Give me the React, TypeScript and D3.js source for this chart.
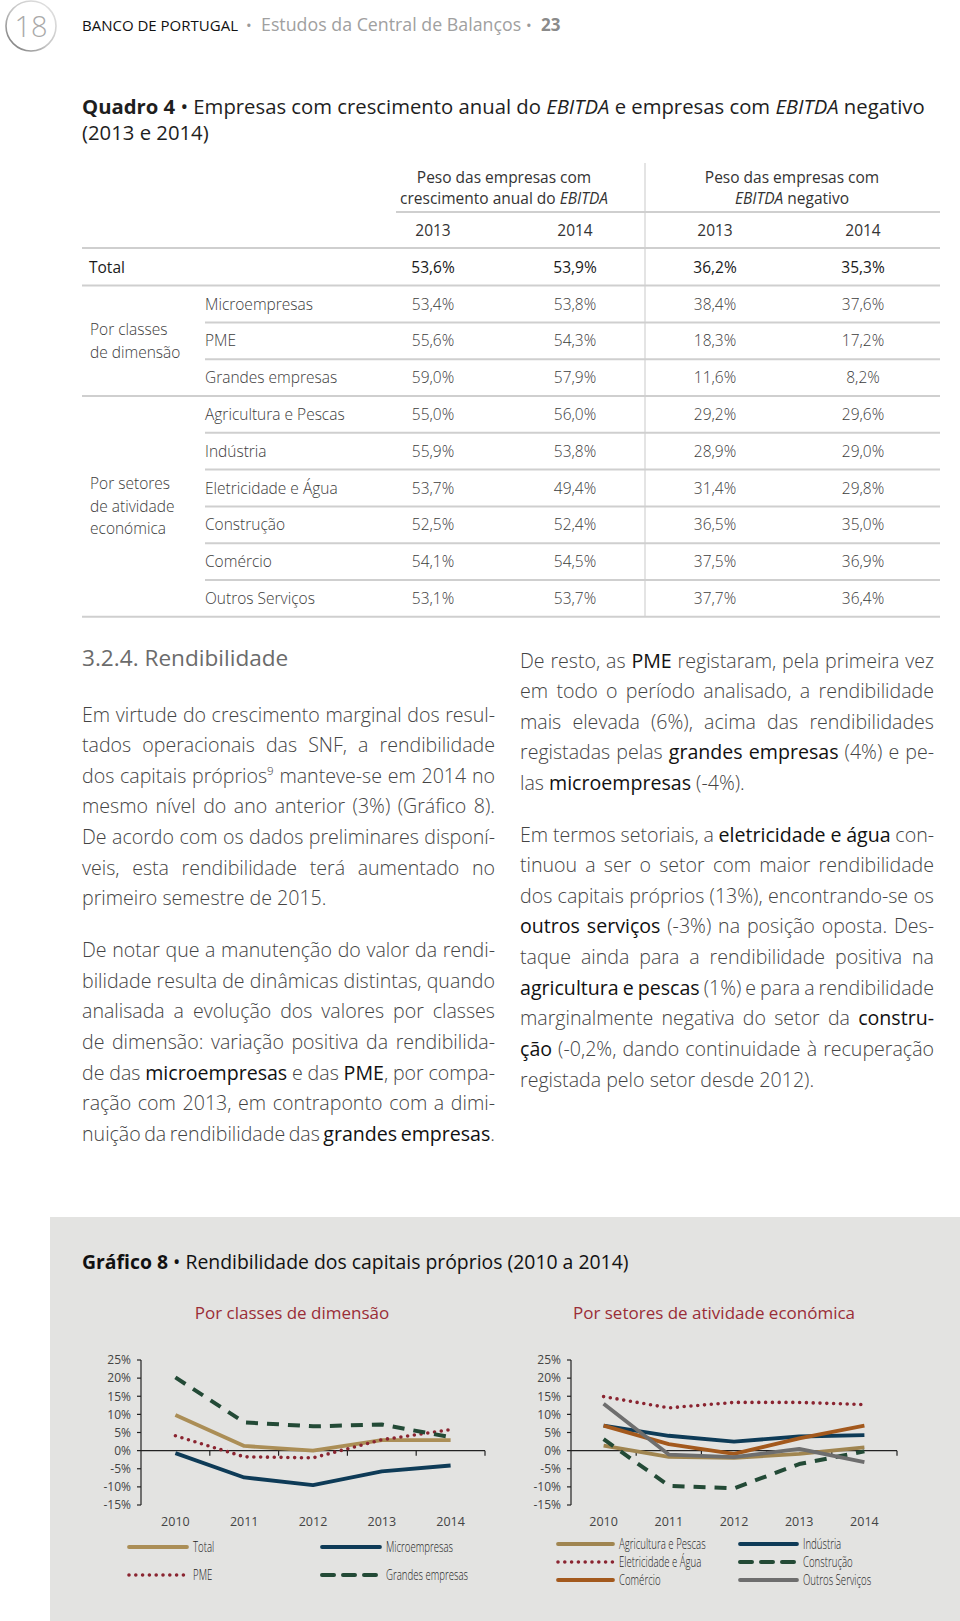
import React from "react";
import * as d3 from "d3";

// ---------- Data ----------
const years = ["2010", "2011", "2012", "2013", "2014"];

const totalSeries = [9.8, 1.3, 0.0, 2.9, 2.9];
const microSeries = [-0.7, -7.4, -9.5, -5.7, -4.1];
const pmeSeries = [4.1, -1.7, -2.0, 3.0, 5.8];
const grandesSeries = [20.2, 7.8, 6.7, 7.2, 3.7];

const agriSeries = [1.4, -1.7, -2.0, -0.9, 0.9];
const industriaSeries = [6.9, 4.1, 2.5, 3.9, 4.3];
const eletSeries = [14.9, 11.8, 13.3, 13.3, 12.7];
const construcaoSeries = [3.2, -9.7, -10.4, -3.7, -0.2];
const comercioSeries = [6.9, 1.8, -0.9, 3.4, 6.9];
const outrosSeries = [12.9, -1.1, -1.8, 0.5, -3.2];

const yTicks = [25, 20, 15, 10, 5, 0, -5, -10, -15];

const tableYears = ["2013", "2014", "2013", "2014"];
const totalRow = ["53,6%", "53,9%", "36,2%", "35,3%"];
const rowLabels = [
  "Microempresas", "PME", "Grandes empresas",
  "Agricultura e Pescas", "Indústria", "Eletricidade e Água",
  "Construção", "Comércio", "Outros Serviços",
];
const crescimento2013 = ["53,4%", "55,6%", "59,0%", "55,0%", "55,9%", "53,7%", "52,5%", "54,1%", "53,1%"];
const crescimento2014 = ["53,8%", "54,3%", "57,9%", "56,0%", "53,8%", "49,4%", "52,4%", "54,5%", "53,7%"];
const negativo2013 = ["38,4%", "18,3%", "11,6%", "29,2%", "28,9%", "31,4%", "36,5%", "37,5%", "37,7%"];
const negativo2014 = ["37,6%", "17,2%", "8,2%", "29,6%", "29,0%", "29,8%", "35,0%", "36,9%", "36,4%"];

const leftPara1 = [
  "Em virtude do crescimento marginal dos resul-",
  "tados operacionais das SNF, a rendibilidade",
  "dos capitais próprios^9 manteve-se em 2014 no",
  "mesmo nível do ano anterior (3%) (Gráfico 8).",
  "De acordo com os dados preliminares disponí-",
  "veis, esta rendibilidade terá aumentado no",
  "primeiro semestre de 2015.",
];
const leftPara2 = [
  "De notar que a manutenção do valor da rendi-",
  "bilidade resulta de dinâmicas distintas, quando",
  "analisada a evolução dos valores por classes",
  "de dimensão: variação positiva da rendibilida-",
  "de das **microempresas** e das **PME**, por compa-",
  "ração com 2013, em contraponto com a dimi-",
  "nuição da rendibilidade das **grandes empresas**.",
];
const rightPara1 = [
  "De resto, as **PME** registaram, pela primeira vez",
  "em todo o período analisado, a rendibilidade",
  "mais elevada (6%), acima das rendibilidades",
  "registadas pelas **grandes empresas** (4%) e pe-",
  "las **microempresas** (-4%).",
];
const rightPara2 = [
  "Em termos setoriais, a **eletricidade e água** con-",
  "tinuou a ser o setor com maior rendibilidade",
  "dos capitais próprios (13%), encontrando-se os",
  "**outros serviços** (-3%) na posição oposta. Des-",
  "taque ainda para a rendibilidade positiva na",
  "**agricultura e pescas** (1%) e para a rendibilidade",
  "marginalmente negativa do setor da **constru-**",
  "**ção** (-0,2%, dando continuidade à recuperação",
  "registada pelo setor desde 2012).",
];

// ---------- Styles ----------
const FONT = "'Open Sans', 'Noto Sans', sans-serif";

type SeriesStyle = { name: string; values: number[]; color: string; kind: "solid" | "dot" | "dash" };

const leftSeries: SeriesStyle[] = [
  { name: "Total", values: totalSeries, color: "#ab8e56", kind: "solid" },
  { name: "Microempresas", values: microSeries, color: "#0e3b57", kind: "solid" },
  { name: "PME", values: pmeSeries, color: "#8a2430", kind: "dot" },
  { name: "Grandes empresas", values: grandesSeries, color: "#234a36", kind: "dash" },
];
const rightSeries: SeriesStyle[] = [
  { name: "Agricultura e Pescas", values: agriSeries, color: "#a08550", kind: "solid" },
  { name: "Indústria", values: industriaSeries, color: "#0e3b57", kind: "solid" },
  { name: "Eletricidade e Água", values: eletSeries, color: "#8a2430", kind: "dot" },
  { name: "Construção", values: construcaoSeries, color: "#234a36", kind: "dash" },
  { name: "Comércio", values: comercioSeries, color: "#a3591d", kind: "solid" },
  { name: "Outros Serviços", values: outrosSeries, color: "#6e6e6e", kind: "solid" },
];

function strokeProps(s: SeriesStyle) {
  if (s.kind === "dot") return { strokeWidth: 3.6, strokeDasharray: "0 6.8", strokeLinecap: "round" as const };
  if (s.kind === "dash") return { strokeWidth: 4, strokeDasharray: "12 9", strokeLinecap: "butt" as const };
  return { strokeWidth: 3.8, strokeLinecap: "butt" as const };
}

// ---------- Text measurement ----------
let ctx: CanvasRenderingContext2D | null = null;
function measure(text: string, weight: number, size: number, italic = false) {
  if (!ctx) ctx = document.createElement("canvas").getContext("2d");
  if (!ctx) return text.length * size * 0.5;
  ctx.font = `${italic ? "italic " : ""}${weight} ${size}px "Open Sans"`;
  return ctx.measureText(text).width;
}

type Run = { text: string; bold: boolean; sup: boolean };
function parseLine(line: string): Run[][] {
  const words: Run[][] = [];
  let bold = false;
  let cur: Run[] = [];
  let buf = "";
  const flush = () => {
    if (buf) {
      cur.push({ text: buf, bold, sup: false });
      buf = "";
    }
  };
  for (let i = 0; i < line.length; i++) {
    if (line.startsWith("**", i)) {
      flush();
      bold = !bold;
      i++;
      continue;
    }
    const ch = line[i];
    if (ch === "^") {
      flush();
      cur.push({ text: line[i + 1], bold, sup: true });
      i++;
      continue;
    }
    if (ch === " ") {
      flush();
      if (cur.length) words.push(cur);
      cur = [];
      continue;
    }
    buf += ch;
  }
  flush();
  if (cur.length) words.push(cur);
  return words;
}

const BODY = 19.6;
function runWidth(r: Run) {
  return measure(r.text, r.bold ? 400 : 300, r.sup ? 11.5 : BODY);
}

function Paragraph({ lines, x, width, y0, lh }: { lines: string[]; x: number; width: number; y0: number; lh: number }) {
  return (
    <g fontFamily={FONT}>
      {lines.map((ln, li) => {
        const words = parseLine(ln);
        const widths = words.map((w) => w.reduce((s, r) => s + runWidth(r), 0));
        const total = widths.reduce((a, b) => a + b, 0);
        const isLast = li === lines.length - 1;
        const natGap = measure(" ", 300, BODY);
        let gap = natGap;
        if (!isLast && words.length > 1) gap = (width - total) / (words.length - 1);
        if (isLast && total + natGap * (words.length - 1) > width - 2 && words.length > 1)
          gap = (width - total) / (words.length - 1);
        const yb = y0 + li * lh;
        let cx = x;
        const spans: React.ReactNode[] = [];
        words.forEach((w, wi) => {
          w.forEach((r, ri) => {
            const isEnd = ri === w.length - 1 && wi < words.length - 1;
            spans.push(
              <tspan
                key={`${wi}-${ri}`}
                x={cx}
                y={r.sup ? yb - 8 : yb}
                fontSize={r.sup ? 11.5 : BODY}
                fontWeight={r.bold ? 400 : 300}
                fill={r.bold ? "#111" : "#444"}
              >
                {r.text + (isEnd ? " " : "")}
              </tspan>
            );
            cx += runWidth(r);
          });
          cx += gap;
        });
        return <text key={li}>{spans}</text>;
      })}
    </g>
  );
}

// ---------- Chart ----------
const yScale = d3.scaleLinear().domain([-15, 25]).range([1505, 1360]);

function LineChart({ x0, x1, series }: { x0: number; x1: number; series: SeriesStyle[] }) {
  const x = d3.scaleBand<string>().domain(years).range([x0, x1]).padding(0);
  const cx = (i: number) => (x(years[i]) as number) + x.bandwidth() / 2;
  const line = d3
    .line<number>()
    .x((_, i) => cx(i))
    .y((d) => yScale(d));
  const y0 = yScale(0);
  return (
    <g>
      <line x1={x0} x2={x0} y1={yScale(25)} y2={yScale(-15)} stroke="#222" strokeWidth={1.2} />
      {yTicks.map((t) => (
        <g key={t}>
          <line x1={x0 - 4} x2={x0} y1={yScale(t)} y2={yScale(t)} stroke="#222" strokeWidth={1.2} />
          <text x={x0 - 10} y={yScale(t) + 4.3} textAnchor="end" fontSize={12} fontFamily={FONT} fill="#444">
            {t + "%"}
          </text>
        </g>
      ))}
      <line x1={x0} x2={x1} y1={y0} y2={y0} stroke="#222" strokeWidth={1.2} />
      {years.map((yr) => (
        <line
          key={yr}
          x1={(x(yr) as number) + x.bandwidth()}
          x2={(x(yr) as number) + x.bandwidth()}
          y1={y0}
          y2={y0 + 5}
          stroke="#222"
          strokeWidth={1.2}
        />
      ))}
      {years.map((yr, i) => (
        <text key={yr} x={cx(i)} y={1525.5} textAnchor="middle" fontSize={12.5} fontFamily={FONT} fill="#444">
          {yr}
        </text>
      ))}
      {series.map((s) => (
        <path key={s.name} d={line(s.values) || ""} fill="none" stroke={s.color} strokeLinejoin="round" {...strokeProps(s)} />
      ))}
    </g>
  );
}

const LEG_SIZE = 14.5;
function LegendItem({ s, x, y, len }: { s: SeriesStyle; x: number; y: number; len: number }) {
  const w = measure(s.name, 300, 13) * 0.74;
  return (
    <g>
      <line x1={x} x2={x + len} y1={y} y2={y} stroke={s.color} {...strokeProps(s)} strokeLinecap="round" />
      <text
        x={x + len + 6}
        y={y + 5}
        fontSize={LEG_SIZE}
        fontWeight={300}
        fontFamily={FONT}
        fill="#222"
        textLength={w}
        lengthAdjust="spacingAndGlyphs"
      >
        {s.name}
      </text>
    </g>
  );
}

// ---------- Table ----------
const colX = [433, 575, 715, 863];
const rowY0 = 304;
const rowStep = 36.8;

export default function App() {
  const rowsY = rowLabels.map((_, i) => rowY0 + i * rowStep);
  return (
    <svg
      width={960}
      height={1621}
      viewBox="0 0 960 1621"
      style={{ position: "absolute", left: 0, top: 0, background: "#fff" }}
    >
      <defs>
        <linearGradient id="ring" x1="1" y1="0" x2="0" y2="1">
          <stop offset="0" stopColor="#e6e6e6" />
          <stop offset="0.55" stopColor="#c4c4c4" />
          <stop offset="1" stopColor="#6f6f6f" />
        </linearGradient>
      </defs>
      <rect x={0} y={0} width={960} height={1621} fill="#fff" />

      {/* Header */}
      <circle cx={31} cy={26} r={25} fill="none" stroke="url(#ring)" strokeWidth={1.6} />
      <text x={31} y={36.5} textAnchor="middle" fontSize={29} fontWeight={300} fontFamily={FONT} fill="#a9a9a9">
        18
      </text>
      <text y={31} fontFamily={FONT} fontSize={15}>
        <tspan x={82} fill="#111">BANCO DE PORTUGAL</tspan>
        <tspan x={246} fill="#9a9a9a">•</tspan>
        <tspan x={261} fill="#a0a0a0" fontSize={17.8}>Estudos da Central de Balanços</tspan>
        <tspan x={526} fill="#9a9a9a">•</tspan>
        <tspan x={541} fill="#8a8a8a" fontWeight={700} fontSize={17}>23</tspan>
      </text>

      {/* Quadro title */}
      <text x={82} y={113.5} fontFamily={FONT} fontSize={20.3} fill="#1e1e1e">
        <tspan fontWeight={700}>Quadro 4</tspan>
        <tspan> • Empresas com crescimento anual do </tspan>
        <tspan fontStyle="italic">EBITDA</tspan>
        <tspan> e empresas com </tspan>
        <tspan fontStyle="italic">EBITDA</tspan>
        <tspan> negativo</tspan>
      </text>
      <text x={82} y={139.5} fontFamily={FONT} fontSize={20.3} fill="#1e1e1e">
        (2013 e 2014)
      </text>

      {/* Table */}
      <g fontFamily={FONT}>
        <line x1={645} x2={645} y1={163} y2={617} stroke="#d2d2d2" strokeWidth={1.2} />
        <text x={504} y={183} textAnchor="middle" fontSize={15.5} fill="#333">Peso das empresas com</text>
        <text x={504} y={204} textAnchor="middle" fontSize={15.5} fill="#333">
          crescimento anual do <tspan fontStyle="italic">EBITDA</tspan>
        </text>
        <text x={792} y={183} textAnchor="middle" fontSize={15.5} fill="#333">Peso das empresas com</text>
        <text x={792} y={204} textAnchor="middle" fontSize={15.5} fill="#333">
          <tspan fontStyle="italic">EBITDA</tspan> negativo
        </text>
        <line x1={396} x2={940} y1={212} y2={212} stroke="#cfcfcf" strokeWidth={2} />
        {tableYears.map((t, i) => (
          <text key={i} x={colX[i]} y={236} textAnchor="middle" fontSize={15.5} fill="#333">
            {t}
          </text>
        ))}
        <line x1={82} x2={940} y1={248} y2={248} stroke="#cfcfcf" strokeWidth={2} />
        <text x={89} y={272.5} fontSize={15.5} fill="#1a1a1a">Total</text>
        {totalRow.map((v, i) => (
          <text key={i} x={colX[i]} y={272.5} textAnchor="middle" fontSize={15.5} fill="#1a1a1a">
            {v}
          </text>
        ))}
        <line x1={82} x2={940} y1={285.5} y2={285.5} stroke="#cfcfcf" strokeWidth={2} />
        {rowLabels.map((lab, i) => {
          const yc = rowsY[i];
          const vals = [crescimento2013[i], crescimento2014[i], negativo2013[i], negativo2014[i]];
          const full = i === 2 || i === rowLabels.length - 1;
          return (
            <g key={lab}>
              <text x={205} y={yc + 5.5} fontSize={15.5} fontWeight={300} fill="#3c3c3c">
                {lab}
              </text>
              {vals.map((v, j) => (
                <text key={j} x={colX[j]} y={yc + 5.5} textAnchor="middle" fontSize={15.5} fontWeight={300} fill="#3c3c3c">
                  {v}
                </text>
              ))}
              <line
                x1={full ? 82 : 205}
                x2={940}
                y1={yc + 18.4}
                y2={yc + 18.4}
                stroke="#cfcfcf"
                strokeWidth={2}
              />
            </g>
          );
        })}
        <g fontSize={15.5} fontWeight={300} fill="#3c3c3c">
          <text x={90} y={335}>Por classes</text>
          <text x={90} y={358}>de dimensão</text>
          <text x={90} y={489}>Por setores</text>
          <text x={90} y={511.5}>de atividade</text>
          <text x={90} y={533.5}>económica</text>
        </g>
      </g>

      {/* Body text */}
      <text x={82} y={666} fontFamily={FONT} fontSize={22.6} fill="#6b6b6b">
        3.2.4. Rendibilidade
      </text>
      <Paragraph lines={leftPara1} x={82} width={413} y0={721.5} lh={30.65} />
      <Paragraph lines={leftPara2} x={82} width={413} y0={957} lh={30.65} />
      <Paragraph lines={rightPara1} x={520} width={414} y0={667.5} lh={30.65} />
      <Paragraph lines={rightPara2} x={520} width={414} y0={841.5} lh={30.65} />

      {/* Chart panel */}
      <rect x={50} y={1217} width={910} height={404} fill="#e3e3e1" />
      <text x={82} y={1268.5} fontFamily={FONT} fontSize={19.4} fill="#111">
        <tspan fontWeight={700}>Gráfico 8</tspan>
        <tspan> • Rendibilidade dos capitais próprios (2010 a 2014)</tspan>
      </text>
      <text x={292} y={1319} textAnchor="middle" fontFamily={FONT} fontSize={17} fill="#9a2d37">
        Por classes de dimensão
      </text>
      <text x={714} y={1319} textAnchor="middle" fontFamily={FONT} fontSize={17} fill="#9a2d37">
        Por setores de atividade económica
      </text>

      <LineChart x0={141} x1={485} series={leftSeries} />
      <LineChart x0={571} x1={897} series={rightSeries} />

      {/* Legends */}
      <LegendItem s={leftSeries[0]} x={129} y={1547} len={58} />
      <LegendItem s={leftSeries[1]} x={322} y={1547} len={58} />
      <LegendItem s={leftSeries[2]} x={129} y={1575} len={58} />
      <LegendItem s={leftSeries[3]} x={322} y={1575} len={58} />

      <LegendItem s={rightSeries[0]} x={558} y={1544} len={55} />
      <LegendItem s={rightSeries[1]} x={740} y={1544} len={57} />
      <LegendItem s={rightSeries[2]} x={558} y={1562} len={55} />
      <LegendItem s={rightSeries[3]} x={740} y={1562} len={57} />
      <LegendItem s={rightSeries[4]} x={558} y={1580} len={55} />
      <LegendItem s={rightSeries[5]} x={740} y={1580} len={57} />
    </svg>
  );
}
